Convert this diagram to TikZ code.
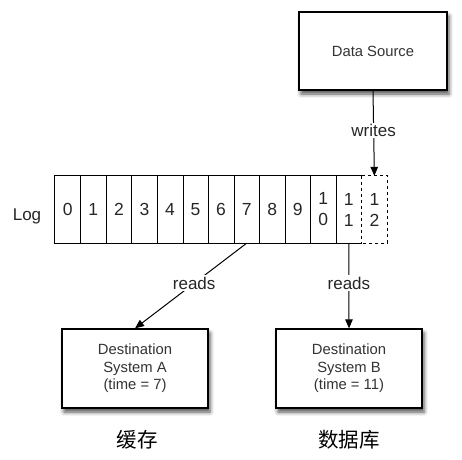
\documentclass[tikz,border=0pt]{standalone}
\usepackage{fontspec}
\setmainfont{Liberation Sans}
\newfontfamily\cjk{Noto Sans CJK SC}
\usetikzlibrary{arrows.meta,shadows.blur}
\begin{document}
\begin{tikzpicture}[x=1pt,y=-1pt,
  sysbox/.style={draw=black,line width=1.3pt,fill=white,inner sep=0pt,
    blur shadow={shadow xshift=2pt,shadow yshift=-4pt,shadow blur radius=4pt,shadow opacity=70},
    text=black!80,font=\fontsize{14.8}{17.5}\selectfont,align=center},
  cell/.style={minimum width=25.55pt,minimum height=67pt,inner sep=0pt,
    font=\fontsize{17.5}{21}\selectfont,align=center,text=black!85},
  grid/.style={line width=0.9pt},
  lbl/.style={fill=white,inner sep=1.5pt,font=\fontsize{17}{20}\selectfont,text=black!85},
  arr/.style={line width=1pt,-{Triangle[length=9pt,width=7.5pt]}},
  cn/.style={font=\cjk\fontsize{20.5}{24}\selectfont}
]
\useasboundingbox (0,0) rectangle (462,459);
\node[sysbox,minimum width=148pt,minimum height=78pt] (src) at (373,51) {Data Source};
\node[font=\fontsize{17}{20}\selectfont,text=black!85] (log) at (27,216) {Log};
\foreach \i/\t in {0/0,1/1,2/2,3/3,4/4,5/5,6/6,7/7,8/8,9/9,10/{1\\0},11/{1\\1}}{
  \node[cell] (c\i) at ({55+25.55*(\i+0.5)},209.5) {\t};
}
\node[cell] (c12) at ({55+25.55*12.5},209.5) {1\\2};
\draw[grid] (c11.north east) -- (c0.north west) -- (c0.south west) -- (c11.south east);
\foreach \i in {0,...,10}{\draw[grid] (c\i.north east) -- (c\i.south east);}
\draw[grid,dashed] (c11.north east) -- (c12.north east) -- (c12.south east) -- (c11.south east);
\draw[grid,dashed] (c11.north east) -- (c11.south east);
\node[sysbox,minimum width=146pt,minimum height=79pt] (dA) at (135,368.5) {Destination\\System A\\(time = 7)};
\node[sysbox,minimum width=146pt,minimum height=79pt] (dB) at (349,368.5) {Destination\\System B\\(time = 11)};
\draw[arr] (src.south) -- node[lbl,pos=0.47] {writes} (c12.north);
\draw[arr] (c7.south) -- node[lbl,pos=0.47] {reads} (dA.north);
\draw[arr] (c11.south) -- node[lbl,pos=0.47] {reads} (dB.north);
\node[cn] (ca) at (137,440) {缓存};
\node[cn] (cb) at (349,440) {数据库};
\end{tikzpicture}
\end{document}
